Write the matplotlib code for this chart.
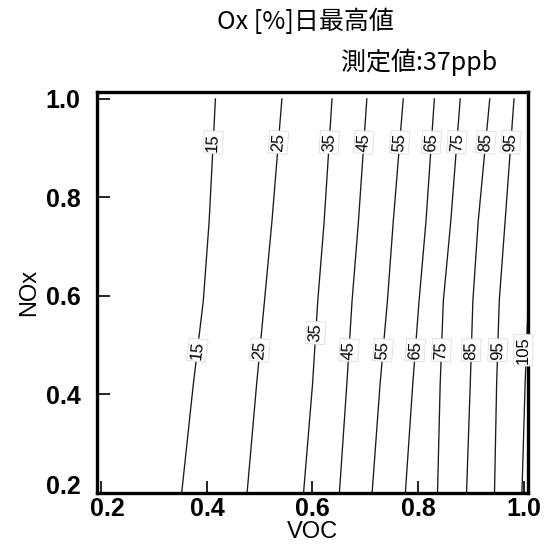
import numpy as np
import matplotlib
matplotlib.use("Agg")
import matplotlib.pyplot as plt
import matplotlib.transforms as mtransforms

# niveaux des contours (Ox [%])
levels = [15, 25, 35, 45, 55, 65, 75, 85, 95, 105]

# NOx ou on lit la position des lignes
nox_pts = [0.2, 0.42, 0.59, 0.75, 1.0]

# VOC de chaque ligne de niveau (une ligne par niveau)
voc_15 = [0.352, 0.374, 0.393, 0.404, 0.416]
voc_25 = [0.476, 0.494, 0.509, 0.523, 0.542]
voc_35 = [0.583, 0.600, 0.610, 0.622, 0.637]
voc_45 = [0.651, 0.665, 0.675, 0.687, 0.703]
voc_55 = [0.713, 0.728, 0.742, 0.753, 0.772]
voc_65 = [0.776, 0.790, 0.802, 0.815, 0.831]
voc_75 = [0.837, 0.842, 0.848, 0.862, 0.880]
voc_85 = [0.892, 0.899, 0.904, 0.914, 0.936]
voc_95 = [0.945, 0.949, 0.954, 0.965, 0.982]
voc_105 = [0.997, 1.003, 1.009, 1.015, 1.021]
voc_lines = [voc_15, voc_25, voc_35, voc_45, voc_55,
             voc_65, voc_75, voc_85, voc_95, voc_105]

ticks = [0.2, 0.4, 0.6, 0.8, 1.0]
tick_labels = ["0.2", "0.4", "0.6", "0.8", "1.0"]

title = "Ox [%]日最高値"
subtitle = "測定値:37ppb"

# hauteur (NOx) des etiquettes
lab_top = 0.912
lab_low = 0.49

fig = plt.figure(figsize=(5.45, 5.55), dpi=100)
ax = fig.add_axes([97/545, 62/555, 431/545, 401/555])
ax.set_xlim(0.1915, 1.0085)
ax.set_ylim(0.2, 1.014)

for lev, xs in zip(levels, voc_lines):
    ax.plot(xs, nox_pts, color="#1a1a1a", lw=0.95, zorder=2)

def put_label(lev, xs, yl):
    xl = np.interp(yl, nox_pts, xs)
    if xl > 1.0:
        return
    # angle of the line in display space
    p1 = ax.transData.transform((np.interp(yl - 0.05, nox_pts, xs), yl - 0.05))
    p2 = ax.transData.transform((np.interp(yl + 0.05, nox_pts, xs), yl + 0.05))
    ang = np.degrees(np.arctan2(p2[1] - p1[1], p2[0] - p1[0]))
    ax.text(xl, yl, str(lev), rotation=ang, rotation_mode="anchor",
            ha="center", va="center", fontsize=12,
            family="Liberation Sans", zorder=3,
            bbox=dict(boxstyle="square,pad=0.12", fc="white",
                      ec="#dcdcdc", lw=0.6))

for lev, xs in zip(levels, voc_lines):
    if lev < 105:
        put_label(lev, xs, lab_top)
    if lev == 35:
        put_label(lev, xs, 0.525)
    elif lev == 105:
        put_label(lev, [0.997, 0.999, 1.0, 1.0, 1.0], lab_low)
    else:
        put_label(lev, xs, lab_low)

ax.set_xticks(ticks)
ax.set_yticks(ticks)
ax.set_xticklabels(tick_labels, fontsize=18, fontweight="bold", family="Liberation Sans")
ax.set_yticklabels(tick_labels, fontsize=18, fontweight="bold", family="Liberation Sans")
ax.tick_params(direction="in", length=9, width=1.2, top=False, right=False)
ax.tick_params(axis="x", pad=3)
ax.tick_params(axis="y", pad=12)

# decaler un peu les etiquettes du coin
xl0 = ax.get_xticklabels()[0]
xl0.set_transform(xl0.get_transform() + mtransforms.ScaledTranslation(6/100, 0, fig.dpi_scale_trans))
yl0 = ax.get_yticklabels()[0]
yl0.set_transform(yl0.get_transform() + mtransforms.ScaledTranslation(0, 8/100, fig.dpi_scale_trans))

for s in ax.spines.values():
    s.set_linewidth(2.4)

ax.set_xlabel("VOC", fontsize=17, family="Liberation Sans", labelpad=0)
ax.set_ylabel("NOx", fontsize=17, family="Liberation Sans", labelpad=4)

fig.text(305/545, 1 - 22/555, title, ha="center", va="center", fontsize=18,
         family=["Noto Sans CJK JP", "DejaVu Sans"])
fig.text(497/545, 1 - 62/555, subtitle, ha="right", va="center", fontsize=18,
         family=["Noto Sans CJK JP", "DejaVu Sans"])

fig.savefig("out.png", dpi=100)
